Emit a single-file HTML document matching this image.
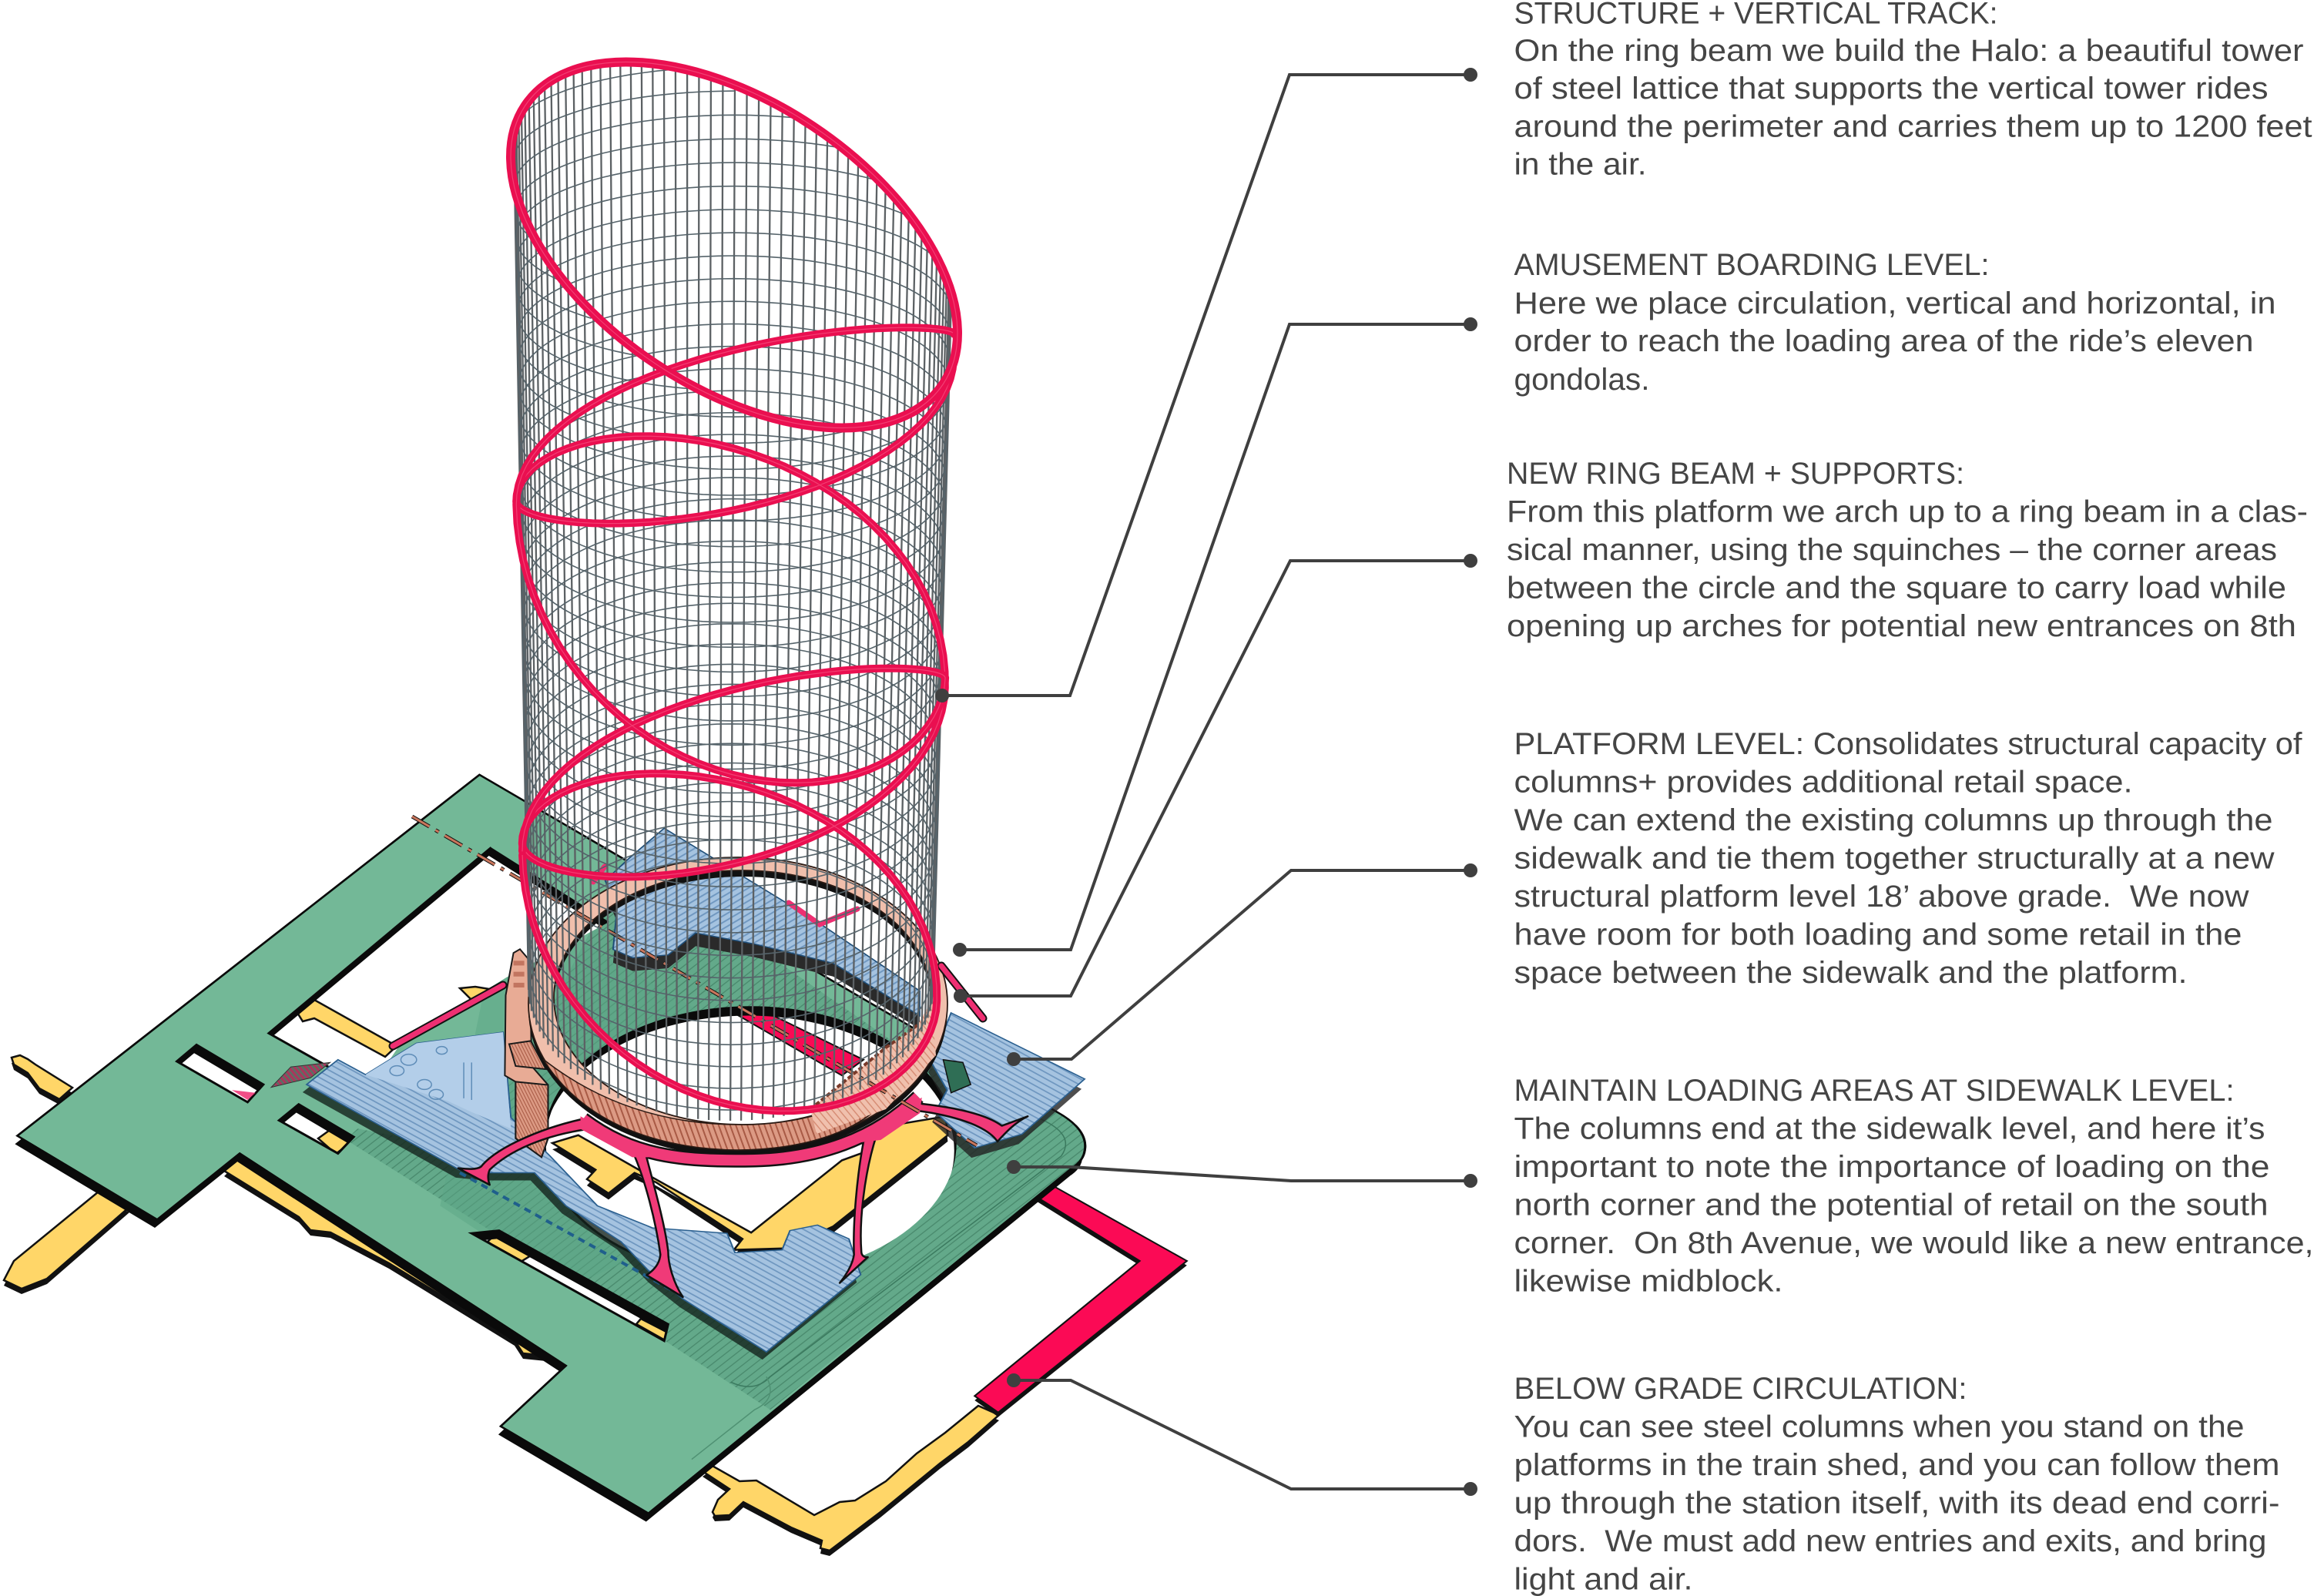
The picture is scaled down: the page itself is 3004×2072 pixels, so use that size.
<!DOCTYPE html>
<html lang="en">
<head>
<meta charset="utf-8">
<title>Halo tower diagram</title>
<style>
html,body{margin:0;padding:0;background:#fff;width:3004px;height:2072px;overflow:hidden}
svg{display:block}
.b *{vector-effect:non-scaling-stroke}
.t text{font-family:"Liberation Sans",sans-serif;font-size:40px;fill:#454545;white-space:pre}
</style>
</head>
<body>
<svg xmlns="http://www.w3.org/2000/svg" width="3004" height="2072" viewBox="0 0 3004 2072">
<defs>
<pattern id="hb" width="9" height="9" patternUnits="userSpaceOnUse" patternTransform="rotate(38)"><rect width="9" height="9" fill="#a5c3e0"/><rect width="9" height="2.2" fill="#6f97c0"/></pattern>
<pattern id="hg" width="10" height="10" patternUnits="userSpaceOnUse" patternTransform="rotate(-48)"><rect width="10" height="10" fill="#5fa586"/><rect width="10" height="1.6" fill="#3e7d62"/></pattern>
<pattern id="hs" width="7" height="7" patternUnits="userSpaceOnUse" patternTransform="rotate(70)"><rect width="7" height="7" fill="#dc9a84"/><rect width="7" height="2" fill="#a85a45"/></pattern>
<pattern id="hl" width="7" height="7" patternUnits="userSpaceOnUse" patternTransform="rotate(50)"><rect width="7" height="7" fill="#f0c0ad"/><rect width="7" height="1.4" fill="#d58a72"/></pattern>
<pattern id="hi" width="9" height="9" patternUnits="userSpaceOnUse" patternTransform="rotate(-40)"><rect width="9" height="9" fill="#a5c3e0"/><rect width="9" height="2.4" fill="#6f97c0"/></pattern>
<pattern id="hm" width="6" height="6" patternUnits="userSpaceOnUse" patternTransform="rotate(60)"><rect width="6" height="6" fill="#a53a5c"/><rect width="6" height="2" fill="#4c7a66"/></pattern>
<mask id="gm" maskUnits="userSpaceOnUse" x="-200" y="-200" width="2200" height="2200">
<rect x="-200" y="-200" width="2200" height="2200" fill="#fff"/>
<ellipse cx="955" cy="745" rx="262" ry="245" fill="#000"/>
<polygon points="625,210 342,547 470,650 510,565 645,445 775,345" fill="#000"/>
<polygon points="225,598 250,568 335,640 315,672" fill="#000"/>
<polygon points="355,705 380,676 450,735 430,765" fill="#000"/>
<polygon points="600,910 635,905 850,1075 845,1105" fill="#000"/>
</mask>
<path id="gr" d="M610,78 L1345,690 Q1385,722 1380,760 Q1378,778 1365,790 L825,1418 L637,1260 L720,1150 L305,765 L200,885 L22,733 Z"/>
<path id="bA" d="M390,640 L430,595 L465,622 L530,565 L640,545 L650,700 L700,770 L760,860 L830,900 L925,910 L935,945 L995,940 L1005,905 L1040,895 L1080,920 L1095,985 L975,1125 L870,1030 L830,985 L790,925 L720,860 L680,800 L620,800 L585,795 Z"/>
<path id="bR" d="M1210,510 L1380,630 L1300,730 L1240,755 L1190,690 L1205,650 L1185,600 Z"/>
<path id="bT" d="M845,175 L1040,345 L1170,470 L1170,515 L1060,420 L960,385 L885,365 L850,405 L805,410 L780,395 L785,320 L770,270 L800,230 Z"/>
<path id="y1" d="M128,1547 L168,1567 L61,1660 L28,1673 L5,1662 L18,1637 Z"/>
<path id="y2" d="M15,1373 L26,1370 L36,1375 L46,1382 L94,1412 L77,1427 L51,1413 L36,1393 L18,1382 Z"/>
<path id="y3" d="M311,1500 L291,1520 L388,1580 L403,1597 L429,1600 L505,1640 L668,1740 L679,1757 L709,1760 L740,1775 L760,1760 Z"/>
<path id="y4" d="M912,1910 L923,1902 L960,1923 L982,1922 L1057,1967 L1090,1950 L1110,1948 L1150,1923 L1190,1887 L1227,1860 L1270,1825 L1297,1837 L1257,1872 L1220,1900 L1143,1963 L1077,2013 L1065,2010 L1067,2000 L1027,1983 L965,1950 L947,1967 L928,1968 L925,1963 L932,1947 L947,1933 Z"/>
<path id="rc" d="M1335,820 L1510,960 L1270,1235 L1240,1205 L1450,960 L1320,845 Z"/>
</defs>

<!-- yellow concourse strips in page coordinates -->
<g class="b">
  <g fill="#111" transform="translate(0,7)">
    <use href="#y1"/><use href="#y2"/><use href="#y3"/><use href="#y4"/>
  </g>
  <g fill="#ffd668" stroke="#111" stroke-width="2.5">
    <use href="#y1"/><use href="#y2"/><use href="#y3"/><use href="#y4"/>
    <path d="M383,1310 L408,1298 L515,1358 L500,1372 L408,1322 L393,1326 Z"/>
    <path d="M597,1283 L617,1281 L653,1287 L612,1298 Z"/>
    <path d="M431,1465 L462,1478 L436,1498 L413,1478 Z"/>
    <path d="M648,1598 L694,1627 L673,1640 L633,1612 Z"/>
    <path d="M832,1712 L867,1730 L865,1741 L826,1719 Z"/>
  </g>
</g>
<g class="b" transform="translate(0,950) scale(1.0204,.7156)">
  <use href="#rc" fill="#111" transform="translate(0,8)"/>
  <use href="#rc" fill="#fb0a55" stroke="#111" stroke-width="2.5"/>
</g>

<!-- central yellow V and inner red strip (crop 5 coordinates) -->
<g class="b" transform="translate(560,1180) scale(.561,.408)">
  <path d="M280,745 L340,720 L480,830 L740,1030 L950,800 L1010,770 L1015,700 L1190,660 L1195,720 L930,1010 L820,1080 L700,1085 L720,1050 L520,870 L470,840 L410,905 L360,860 L380,830 Z" fill="#111" transform="translate(0,20)"/>
  <path d="M280,745 L340,720 L480,830 L740,1030 L950,800 L1010,770 L1015,700 L1190,660 L1195,720 L930,1010 L820,1080 L700,1085 L720,1050 L520,870 L470,840 L410,905 L360,860 L380,830 Z" fill="#ffd668" stroke="#111" stroke-width="2.5"/>
  <path d="M680,315 L740,305 L1000,480 L950,530 Z" fill="#fb0a55" stroke="#111" stroke-width="2"/>
</g>

<g class="b" transform="translate(0,950) scale(1.0204,.7156)">
  <!-- green shadow -->
  <g transform="translate(-3,15)"><g mask="url(#gm)"><use href="#gr" fill="#0a0a0a"/></g></g>
  <!-- green deck -->
  <g mask="url(#gm)">
    <use href="#gr" fill="#73b897" stroke="#0a0a0a" stroke-width="3"/>
    <path d="M1215,640 L1345,690 Q1385,722 1380,760 Q1378,778 1365,790 L980,1230 L830,1090 L440,740 L455,720 L600,760 L700,500 L800,230 Z" fill="url(#hg)" opacity=".78"/>
    <path d="M640,300 L1160,730 L720,1010 L560,860 Z" fill="#5ca685" opacity=".5"/>
    <path d="M1320,700 Q1370,730 1350,770 L980,1170 Q960,1200 930,1180" fill="none" stroke="#3b7a5f" stroke-width="1.5"/>
    <path d="M975,1170 Q990,1210 960,1230 L880,1320" fill="none" stroke="#4f9173" stroke-width="1.5"/>
  </g>
  <use href="#gr" fill="none" stroke="#0a0a0a" stroke-width="3"/>
  <g fill="none" stroke="#0a0a0a" stroke-width="3">
    <ellipse cx="955" cy="745" rx="262" ry="245" stroke-dasharray="900 700" stroke-dashoffset="-380"/>
    <polygon points="225,598 250,568 335,640 315,672"/>
    <polygon points="355,705 380,676 450,735 430,765"/>
    <path d="M625,210 L342,547 L470,650"/>
    <polygon points="600,910 635,905 850,1075 845,1105"/>
  </g>
  <polygon points="295,650 325,655 315,668" fill="#ee2f72" opacity=".85"/>
  <polygon points="345,645 370,608 420,600 395,628" fill="url(#hm)" stroke="#333" stroke-width="1"/>

  <!-- blue plate shadows -->
  <use href="#bT" fill="#2a2a2a" transform="translate(0,24)"/>
  <use href="#bA" fill="#14231d" opacity=".8" transform="translate(-5,14)"/>
  <use href="#bR" fill="#222" opacity=".8" transform="translate(-4,18)"/>
  <!-- blue plates -->
  <use href="#bT" fill="url(#hi)" stroke="#1f4e78" stroke-width="2"/>
  <use href="#bA" fill="url(#hb)" stroke="#2a5f8f" stroke-width="2"/>
  <use href="#bR" fill="url(#hb)" stroke="#2a5f8f" stroke-width="2"/>
  <polygon points="465,622 530,565 640,545 650,720 600,690 570,670" fill="#b3cee9"/>
  <g fill="none" stroke="#5f8db8" stroke-width="1.5">
    <circle cx="520" cy="595" r="10"/><circle cx="505" cy="615" r="9"/><circle cx="540" cy="640" r="9"/><circle cx="555" cy="658" r="9"/><circle cx="562" cy="578" r="7"/>
    <path d="M590,600 L590,665 M600,600 L600,668"/>
  </g>
  <polygon points="1200,595 1225,600 1235,640 1210,655" fill="#2f6e55" stroke="#111" stroke-width="1.5"/>
  <!-- dashed blue line -->
  <path d="M585,800 L870,1025" fill="none" stroke="#1f5f8c" stroke-width="4" stroke-dasharray="9 7"/>
</g>

<!-- salmon column + ring + pink structure -->
<g class="b">
  <g transform="translate(560,1180) scale(.561,.408)">
    <path d="M172,275 L190,140 L205,128 L228,165 L232,500 L270,560 L270,730 L255,790 L195,730 L195,550 L170,530 Z" fill="#e8ab95" stroke="#1a1a1a" stroke-width="2"/>
    <path d="M195,550 L270,560 L270,730 L255,790 L195,730 Z" fill="url(#hs)" stroke="#1a1a1a" stroke-width="2"/>
    <path d="M180,430 L230,420 L265,510 L195,500 Z" fill="url(#hs)" stroke="#1a1a1a" stroke-width="2"/>
    <g fill="#c27560"><rect x="190" y="165" width="25" height="15"/><rect x="190" y="200" width="25" height="15"/><rect x="190" y="235" width="25" height="15"/></g>
  </g>

  <!-- ring beam -->
  <path d="M686,1303 a272,190 0 1,0 544,0 a272,190 0 1,0 -544,0 Z M719,1295 a245,165 0 1,1 490,0 a245,165 0 1,1 -490,0 Z" fill="#111" fill-rule="evenodd" transform="translate(0,8)"/>
  <path d="M686,1303 a272,190 0 1,0 544,0 a272,190 0 1,0 -544,0 Z M719,1295 a245,165 0 1,1 490,0 a245,165 0 1,1 -490,0 Z" fill="#f0bfac" fill-rule="evenodd" stroke="#2a1a14" stroke-width="1.8"/>
  <path d="M705,1375 C765,1470 875,1492 958,1493 C1045,1492 1125,1470 1165,1410 C1115,1430 1045,1462 960,1460 C860,1460 775,1430 705,1375 Z" fill="url(#hs)" stroke="#2a1a14" stroke-width="1.5"/>
  <path d="M1052,1440 L1150,1360 L1191,1331 L1209,1300 L1215,1370 L1150,1440 L1060,1472 Z" fill="url(#hl)"/>
  <path d="M1052,1440 L1150,1360 L1191,1331" fill="none" stroke="#7a3a2a" stroke-width="4" stroke-dasharray="6 3"/>

  <!-- pink structure -->
  <path d="M757,1453 C820,1500 880,1508 980,1506 C1060,1504 1135,1480 1192,1424" fill="none" stroke="#111" stroke-width="19"/>
  <g transform="translate(560,1180) scale(.561,.408)" fill="#f03a78" stroke="#111" stroke-width="2.5" stroke-linejoin="round">
    <path d="M345,670 C250,700 150,760 115,820 C105,830 85,828 62,825 L135,878 C130,860 130,845 135,830 C180,770 260,720 365,700 Z"/>
    <path d="M465,770 C495,860 520,1000 530,1100 C528,1130 515,1150 498,1165 L582,1235 C560,1190 548,1130 548,1090 C540,1000 515,880 495,775 Z"/>
    <path d="M1000,740 C985,850 975,1000 978,1100 C975,1130 960,1165 945,1190 L1010,1108 C1000,1110 995,1100 995,1090 C990,1000 1000,850 1030,720 Z"/>
    <path d="M1120,615 L1110,640 C1180,650 1280,680 1310,740 C1330,710 1350,680 1380,660 C1360,670 1340,680 1320,690 C1280,650 1200,630 1135,620 Z"/>
  </g>
  <path d="M757,1453 C820,1500 880,1508 980,1506 C1060,1504 1135,1480 1192,1424" fill="none" stroke="#f03a78" stroke-width="14"/>
  <g transform="translate(560,1180) scale(.561,.408)" fill="#f03a78">
    <polygon points="345,660 520,790 465,790 345,700"/>
    <polygon points="980,745 1135,600 1130,650 1040,735"/>
  </g>
  <g fill="none" stroke-linecap="round">
    <g stroke="#111" stroke-width="11">
      <path d="M510,1358 L653,1279"/>
      <path d="M1222,1254 L1276,1322"/>
    </g>
    <g stroke="#ee2f72" stroke-width="7">
      <path d="M510,1358 L653,1279"/>
      <path d="M1222,1254 L1276,1322"/>
      <path d="M1024,1172 L1064,1200 L1113,1180"/>
      <path d="M770,1145 L785,1125"/>
    </g>
  </g>
  <!-- brown dashed centre line -->
  <path d="M535,1060 L1268,1487" fill="none" stroke="#111" stroke-width="5" stroke-dasharray="26 9 5 9"/>
  <path d="M535,1060 L1268,1487" fill="none" stroke="#c9765c" stroke-width="3" stroke-dasharray="26 9 5 9"/>
</g>

<!-- lattice + track filled by script -->
<path id="latV" fill="none" stroke="#5c6164" stroke-width="2.3"/>
<path id="latH" fill="none" stroke="#55636a" stroke-width="1.6"/>
<g id="track" fill="none" stroke-linecap="round" stroke-linejoin="round"></g>

<!-- leaders -->
<g fill="none" stroke="#3f3f3f" stroke-width="4" stroke-linejoin="miter">
  <path d="M1223,903 H1389 L1674,97 H1909"/>
  <path d="M1246,1233 H1390 L1674,421 H1909"/>
  <path d="M1247,1293 H1390 L1675,728 H1909"/>
  <path d="M1316,1375 H1391 L1676,1130 H1909"/>
  <path d="M1316,1515 H1390 L1676,1533 H1909"/>
  <path d="M1316,1792 H1390 L1676,1933 H1909"/>
</g>
<g fill="#3f3f3f">
  <circle cx="1223" cy="903" r="9"/><circle cx="1909" cy="97" r="9"/>
  <circle cx="1246" cy="1233" r="9"/><circle cx="1909" cy="421" r="9"/>
  <circle cx="1247" cy="1293" r="9"/><circle cx="1909" cy="728" r="9"/>
  <circle cx="1316" cy="1375" r="9"/><circle cx="1909" cy="1130" r="9"/>
  <circle cx="1316" cy="1515" r="9"/><circle cx="1909" cy="1533" r="9"/>
  <circle cx="1316" cy="1792" r="9"/><circle cx="1909" cy="1933" r="9"/>
</g>

<!-- text -->
<g class="t">
<text x="1965.5" y="30.5" textLength="628" lengthAdjust="spacingAndGlyphs">STRUCTURE + VERTICAL TRACK:</text>
<text x="1965.5" y="79" textLength="1025" lengthAdjust="spacingAndGlyphs">On the ring beam we build the Halo: a beautiful tower</text>
<text x="1965.5" y="128" textLength="979" lengthAdjust="spacingAndGlyphs">of steel lattice that supports the vertical tower rides</text>
<text x="1965.5" y="177.5" textLength="1036" lengthAdjust="spacingAndGlyphs">around the perimeter and carries them up to 1200 feet</text>
<text x="1965.5" y="226.5" textLength="172" lengthAdjust="spacingAndGlyphs">in the air.</text>

<text x="1965.5" y="357" textLength="617" lengthAdjust="spacingAndGlyphs">AMUSEMENT BOARDING LEVEL:</text>
<text x="1965.5" y="407" textLength="989" lengthAdjust="spacingAndGlyphs">Here we place circulation, vertical and horizontal, in</text>
<text x="1965.5" y="456" textLength="960" lengthAdjust="spacingAndGlyphs">order to reach the loading area of the ride’s eleven</text>
<text x="1965.5" y="506" textLength="176" lengthAdjust="spacingAndGlyphs">gondolas.</text>

<text x="1956" y="628" textLength="594" lengthAdjust="spacingAndGlyphs">NEW RING BEAM + SUPPORTS:</text>
<text x="1956" y="677.5" textLength="1040" lengthAdjust="spacingAndGlyphs">From this platform we arch up to a ring beam in a clas-</text>
<text x="1956" y="727" textLength="1000" lengthAdjust="spacingAndGlyphs">sical manner, using the squinches – the corner areas</text>
<text x="1956" y="776.5" textLength="1012" lengthAdjust="spacingAndGlyphs">between the circle and the square to carry load while</text>
<text x="1956" y="826" textLength="1025" lengthAdjust="spacingAndGlyphs">opening up arches for potential new entrances on 8th</text>

<text x="1965.5" y="979" textLength="1023" lengthAdjust="spacingAndGlyphs">PLATFORM LEVEL: Consolidates structural capacity of</text>
<text x="1965.5" y="1028.5" textLength="803" lengthAdjust="spacingAndGlyphs">columns+ provides additional retail space.</text>
<text x="1965.5" y="1078" textLength="985" lengthAdjust="spacingAndGlyphs">We can extend the existing columns up through the</text>
<text x="1965.5" y="1127.5" textLength="987" lengthAdjust="spacingAndGlyphs">sidewalk and tie them together structurally at a new</text>
<text x="1965.5" y="1177" textLength="954" lengthAdjust="spacingAndGlyphs">structural platform level 18’ above grade.  We now</text>
<text x="1965.5" y="1226.5" textLength="945" lengthAdjust="spacingAndGlyphs">have room for both loading and some retail in the</text>
<text x="1965.5" y="1276" textLength="874" lengthAdjust="spacingAndGlyphs">space between the sidewalk and the platform.</text>

<text x="1965.5" y="1429" textLength="935" lengthAdjust="spacingAndGlyphs">MAINTAIN LOADING AREAS AT SIDEWALK LEVEL:</text>
<text x="1965.5" y="1478.5" textLength="975" lengthAdjust="spacingAndGlyphs">The columns end at the sidewalk level, and here it’s</text>
<text x="1965.5" y="1528" textLength="981" lengthAdjust="spacingAndGlyphs">important to note the importance of loading on the</text>
<text x="1965.5" y="1577.5" textLength="979" lengthAdjust="spacingAndGlyphs">north corner and the potential of retail on the south</text>
<text x="1965.5" y="1627" textLength="1038" lengthAdjust="spacingAndGlyphs">corner.  On 8th Avenue, we would like a new entrance,</text>
<text x="1965.5" y="1676.5" textLength="349" lengthAdjust="spacingAndGlyphs">likewise midblock.</text>

<text x="1965.5" y="1816" textLength="588" lengthAdjust="spacingAndGlyphs">BELOW GRADE CIRCULATION:</text>
<text x="1965.5" y="1865.5" textLength="948" lengthAdjust="spacingAndGlyphs">You can see steel columns when you stand on the</text>
<text x="1965.5" y="1915" textLength="994" lengthAdjust="spacingAndGlyphs">platforms in the train shed, and you can follow them</text>
<text x="1965.5" y="1964.5" textLength="994" lengthAdjust="spacingAndGlyphs">up through the station itself, with its dead end corri-</text>
<text x="1965.5" y="2014" textLength="977" lengthAdjust="spacingAndGlyphs">dors.  We must add new entries and exits, and bring</text>
<text x="1965.5" y="2063.5" textLength="232" lengthAdjust="spacingAndGlyphs">light and air.</text>
</g>
</svg>

<script>
(function(){
var NS="http://www.w3.org/2000/svg";
var RC={x:953,y:318,a:326,b:185,phi:33.7*Math.PI/180};
function rim(x){
  var dx=x-RC.x,c=Math.cos(RC.phi),s=Math.sin(RC.phi),a2=RC.a*RC.a,b2=RC.b*RC.b;
  var A=s*s/a2+c*c/b2,B=2*dx*c*s*(1/a2-1/b2),C=dx*dx*(c*c/a2+s*s/b2)-1;
  var D=B*B-4*A*C; if(D<0) D=0; D=Math.sqrt(D);
  return [RC.y+(-B-D)/(2*A),RC.y+(-B+D)/(2*A)];
}
function cx(y){return 954.5-.0044*y}
function R(y){return 290.5-.0216*y}
function ry(y){return Math.max(80,95+.07*(y-300))}
var dV=[],dH=[];
var N=58;
for(var side=0;side<2;side++){
  for(var i=0;i<=N;i++){
    var th=Math.PI*i/N,co=Math.cos(th),si=Math.sin(th);
    var yb=side?1285+170*si:1285-170*si;
    var y0=null;
    for(var y=30;y<yb;y+=3){
      var x=cx(y)+R(y)*co,r=rim(x);
      if(y>=(side?r[1]:r[0])){y0=y;break;}
    }
    if(y0===null)continue;
    dV.push("M"+(cx(y0)+R(y0)*co).toFixed(1)+" "+y0+"L"+(cx(yb)+R(yb)*co).toFixed(1)+" "+yb.toFixed(1));
  }
}
var c=70;
while(c<=1286){
  for(var side2=0;side2<2;side2++){
    var pen=false;
    for(var k=0;k<=44;k++){
      var t=Math.PI*k/44,rr=ry(c),xx=cx(c)+R(c)*Math.cos(t);
      var yy=side2?c+rr*Math.sin(t):c-rr*Math.sin(t);
      var rb=rim(xx),lim=side2?rb[1]:rb[0];
      if(yy>=lim){dH.push((pen?"L":"M")+xx.toFixed(1)+" "+yy.toFixed(1));pen=true;}else pen=false;
    }
  }
  c+=35-(c/1286)*9;
}
document.getElementById("latV").setAttribute("d",dV.join(""));
document.getElementById("latH").setAttribute("d",dH.join(""));

function helix(segs,dir){
  var s="",t=0,first=true;
  segs.forEach(function(g){
    var n=40;
    for(var i=(first?0:1);i<=n;i++){
      var f=i/n,tt=t+dir*Math.PI*f,lin=g[0]+(g[1]-g[0])*f;
      var y=lin+g[2]*Math.sin(tt),x=cx(y)+(R(y)+5)*Math.cos(tt);
      s+=(s?"L":"M")+x.toFixed(1)+" "+y.toFixed(1);
    }
    first=false; t+=dir*Math.PI;
  });
  return s;
}
var pB=helix([[466,651,104],[651,893,190],[893,1095,128],[1095,1299,181],[1299,1110,230]],1);
var pC=helix([[434,655,90],[655,880,238],[880,1105,97]],-1);
var g=document.getElementById("track");
function add(tag,attrs){var e=document.createElementNS(NS,tag);for(var k in attrs)e.setAttribute(k,attrs[k]);g.appendChild(e);}
[pB,pC].forEach(function(p){
  add("path",{d:p,stroke:"#ea0f50","stroke-width":"10"});
  add("path",{d:p,stroke:"#ff86a8","stroke-width":"1.2","stroke-opacity":".4"});
});
var rot="rotate(33.7 "+RC.x+" "+RC.y+")";
add("ellipse",{cx:RC.x,cy:RC.y,rx:RC.a,ry:RC.b,transform:rot,stroke:"#ea0f50","stroke-width":"12"});
add("ellipse",{cx:RC.x,cy:RC.y,rx:RC.a,ry:RC.b,transform:rot,stroke:"#ff86a8","stroke-width":"1.2","stroke-opacity":".4"});
})();
</script>
</body>
</html>
